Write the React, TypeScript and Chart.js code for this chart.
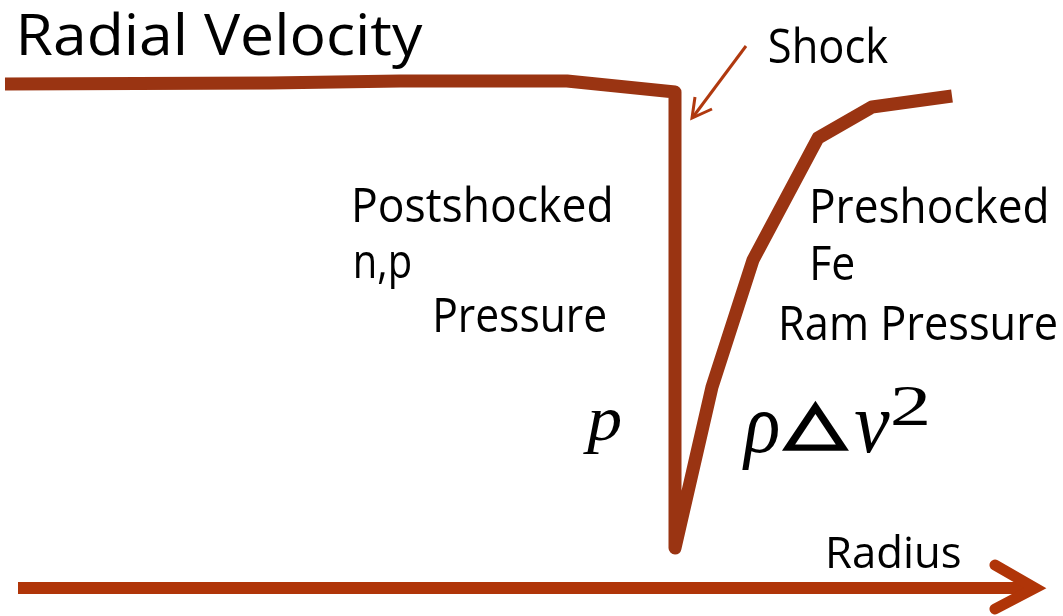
import React, { useEffect, useRef } from "react";
import { Chart, registerables } from "chart.js";

Chart.register(...registerables);

// Radial velocity profile (arbitrary units): radius vs velocity
const radius = [0.5, 27.0, 40.0, 56.7, 67.5, 67.5, 71.2, 75.3, 81.8, 87.2, 95.2];
const velocity = [53.2, 53.3, 53.5, 53.5, 52.4, 6.8, 22.9, 35.6, 47.8, 50.9, 52.0];

const titleText = "Radial Velocity";
const axisText = "Radius";
const shockText = "Shock";
const leftLabels = ["Postshocked", "n,p", "Pressure"];
const rightLabels = ["Preshocked", "Fe", "Ram Pressure"];
const leftMath = "p";
const rightMath = ["ρ", "△", "v", "2"];

const CURVE = "#9a3412";
const AXIS = "#b03508";
const SANS = "'Open Sans', 'Noto Sans', sans-serif";
const SERIF_I = "italic 100px 'Liberation Serif', serif";
const SERIF = "100px 'Liberation Serif', serif";
const DEJA = "100px 'DejaVu Sans', sans-serif";

// fit text box: ink left x, baseline y, ink width w, height h (cap height if cap, else ink ascent)
function drawFit(
  ctx: CanvasRenderingContext2D,
  t: string,
  fontTpl: string,
  x: number,
  y: number,
  w: number,
  h: number,
  cap: boolean,
  full = false,
  strokeW = 0
) {
  ctx.font = fontTpl;
  const m = ctx.measureText(t);
  const asc = cap
    ? ctx.measureText("H").actualBoundingBoxAscent
    : full
    ? m.actualBoundingBoxAscent + m.actualBoundingBoxDescent
    : m.actualBoundingBoxAscent;
  const k = h / asc;
  const inkW = (m.actualBoundingBoxLeft + m.actualBoundingBoxRight) * k;
  const sx = w / inkW;
  ctx.save();
  ctx.font = fontTpl.replace("100px", `${100 * k}px`);
  const dy = full ? -m.actualBoundingBoxDescent * k : 0;
  ctx.translate(x, y + dy);
  ctx.scale(sx, 1);
  ctx.fillText(t, m.actualBoundingBoxLeft * k, 0);
  if (strokeW > 0) {
    ctx.strokeStyle = "#000";
    ctx.lineWidth = strokeW;
    ctx.lineJoin = "miter";
    ctx.strokeText(t, m.actualBoundingBoxLeft * k, 0);
  }
  ctx.restore();
}

const labelPlugin = {
  id: "labels",
  afterDraw(chart: any) {
    const ctx: CanvasRenderingContext2D = chart.ctx;
    ctx.save();
    // bottom radius axis arrow
    ctx.strokeStyle = AXIS;
    ctx.lineWidth = 12;
    ctx.lineCap = "butt";
    ctx.beginPath();
    ctx.moveTo(18, 588);
    ctx.lineTo(1030, 588);
    ctx.stroke();
    ctx.lineWidth = 11;
    ctx.lineCap = "round";
    ctx.lineJoin = "miter";
    ctx.beginPath();
    ctx.moveTo(995, 565);
    ctx.lineTo(1035, 588);
    ctx.lineTo(995, 609);
    ctx.stroke();

    // shock pointer arrow
    ctx.strokeStyle = "#b0390f";
    ctx.lineWidth = 3;
    ctx.lineCap = "butt";
    ctx.beginPath();
    ctx.moveTo(746, 46);
    ctx.lineTo(693, 117);
    ctx.stroke();
    ctx.beginPath();
    ctx.moveTo(695, 97);
    ctx.lineTo(692, 118);
    ctx.lineTo(712, 109);
    ctx.stroke();

    // texts
    ctx.fillStyle = "#000";
    ctx.textBaseline = "alphabetic";
    ctx.textAlign = "left";
    const sans = `100px ${SANS}`;
    const s = (t: string, x: number, y: number, w: number, h: number) =>
      drawFit(ctx, t, sans, x + 3, y, w - 5, h, true);
    s(titleText, 18, 55, 407, 42);
    s(shockText, 767, 63, 123, 35);
    s(leftLabels[0], 352, 222, 260, 35);
    s(leftLabels[1], 353, 278, 59, 35);
    s(leftLabels[2], 433, 332, 174, 34);
    s(rightLabels[0], 810, 223, 238, 35);
    s(rightLabels[1], 810, 280, 45, 35);
    s(rightLabels[2], 779, 340, 279, 35);
    s(axisText, 826, 568, 136, 32);

    // math
    drawFit(ctx, leftMath, SERIF_I, 583, 440, 37, 30, false);
    drawFit(ctx, rightMath[0], SERIF_I, 742, 452, 36, 40, false);
    drawFit(ctx, rightMath[1], DEJA, 785, 450, 61, 46, false, true, 3);
    drawFit(ctx, rightMath[2], SERIF_I, 855, 452, 35, 40, false);
    drawFit(ctx, rightMath[3], SERIF, 893, 425, 34, 38, false);
    ctx.restore();
  },
};

export default function App() {
  const ref = useRef<HTMLCanvasElement | null>(null);
  useEffect(() => {
    document.body.style.margin = "0";
    if (!ref.current) return;
    const chart = new Chart(ref.current, {
      type: "line",
      data: {
        datasets: [
          {
            data: radius.map((r, i) => ({ x: r, y: velocity[i] })),
            borderColor: CURVE,
            borderWidth: 13,
            borderJoinStyle: "round",
            borderCapStyle: "butt",
            pointRadius: 0,
            tension: 0,
            fill: false,
          },
        ],
      },
      options: {
        animation: false,
        responsive: true,
        maintainAspectRatio: false,
        layout: { padding: 0 },
        plugins: { legend: { display: false }, tooltip: { enabled: false }, title: { display: false } },
        scales: {
          x: { type: "linear", min: 0, max: 106.3, display: false },
          y: { type: "linear", min: 0, max: 61.6, display: false },
        },
      },
      plugins: [labelPlugin],
    });
    return () => chart.destroy();
  }, []);
  return (
    <div style={{ position: "absolute", left: 0, top: 0, width: 1063, height: 616, background: "#fff" }}>
      <canvas ref={ref} />
    </div>
  );
}
